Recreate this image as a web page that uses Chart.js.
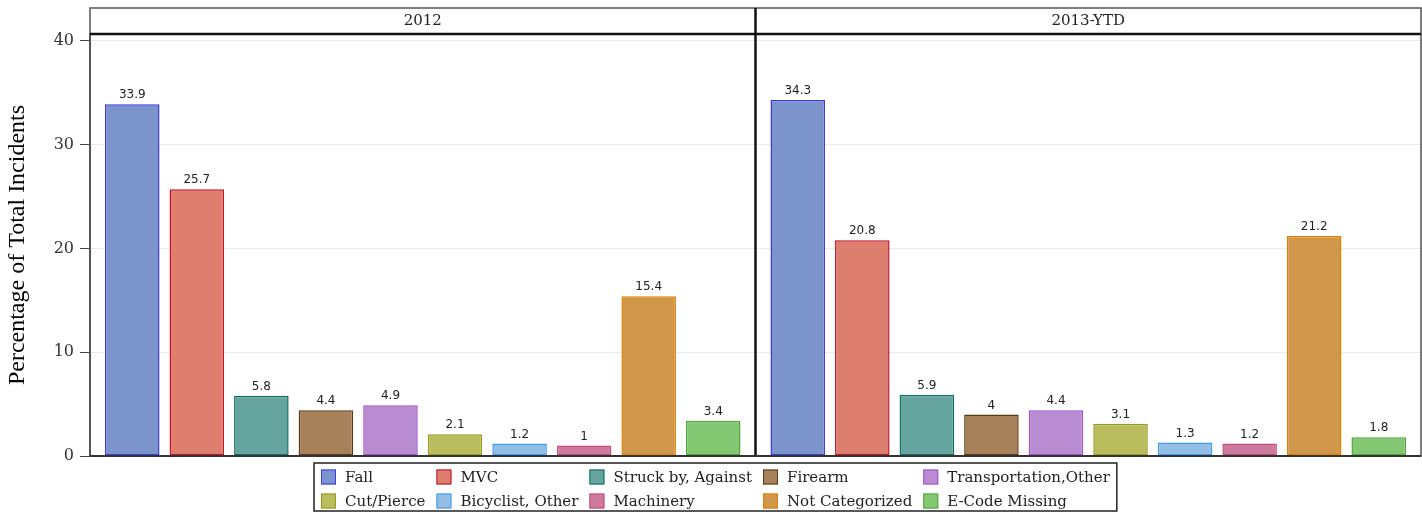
<!DOCTYPE html>
<html>
<head>
<meta charset="utf-8">
<script src="https://cdn.jsdelivr.net/npm/chart.js@4.4.1/dist/chart.umd.min.js"></script>
<style>
  html, body { margin: 0; padding: 0; background: #fff; }
</style>
</head>
<body>
<canvas id="chart" width="1422" height="514"></canvas>
<script>
const panels = ["2012", "2013-YTD"];
const categories = ["Fall", "MVC", "Struck by, Against", "Firearm", "Transportation,Other",
  "Cut/Pierce", "Bicyclist, Other", "Machinery", "Not Categorized", "E-Code Missing"];
const values2012 = [33.9, 25.7, 5.8, 4.4, 4.9, 2.1, 1.2, 1, 15.4, 3.4];
const values2013 = [34.3, 20.8, 5.9, 4, 4.4, 3.1, 1.3, 1.2, 21.2, 1.8];
const yTicks = [0, 10, 20, 30, 40];

const fillColors = ["#7b95cc", "#de7e6e", "#66a59f", "#a6815a", "#b98bd0",
  "#b9bd5d", "#92bee5", "#cd7a9e", "#d0964a", "#84c772"];
const lineColors = ["#3c3ce0", "#c0152a", "#0b6e5e", "#5a3a14", "#a050d0",
  "#9a9a20", "#3c9cf0", "#c0507a", "#e08000", "#4ea83a"];

const serif = "'DejaVu Serif', 'Liberation Serif', serif";

const datasets = categories.map((name, i) => ({
  label: name,
  data: [values2012[i], values2013[i]],
  backgroundColor: fillColors[i],
  borderColor: lineColors[i],
  borderWidth: 1.5,
  borderSkipped: false,
  categoryPercentage: 0.97,
  barPercentage: 0.845,
}));

// value labels above each bar
const barLabels = {
  id: "barLabels",
  afterDatasetsDraw(chart) {
    const ctx = chart.ctx;
    ctx.save();
    ctx.font = "12px 'DejaVu Sans', sans-serif";
    ctx.fillStyle = "#222";
    ctx.textAlign = "center";
    ctx.textBaseline = "bottom";
    chart.data.datasets.forEach((ds, i) => {
      chart.getDatasetMeta(i).data.forEach((bar, j) => {
        ctx.fillText(String(ds.data[j]), bar.x, bar.y - 3);
      });
    });
    ctx.restore();
  }
};

// panel frame, header strip and the boxed legend
const panelFrame = {
  id: "panelFrame",
  afterDraw(chart) {
    const ctx = chart.ctx;
    const a = chart.chartArea;
    const x = chart.scales.x;
    const headTop = a.top - 26;
    ctx.save();
    // outer frame
    ctx.strokeStyle = "#555";
    ctx.lineWidth = 1.5;
    ctx.strokeRect(a.left, headTop, a.right - a.left, a.bottom - headTop);
    // header bottom line and divider
    ctx.strokeStyle = "#111";
    ctx.lineWidth = 2.5;
    ctx.beginPath();
    ctx.moveTo(a.left, a.top);
    ctx.lineTo(a.right, a.top);
    const mid = (x.getPixelForValue(0) + x.getPixelForValue(1)) / 2;
    ctx.moveTo(mid, headTop);
    ctx.lineTo(mid, a.bottom);
    ctx.stroke();
    // baseline
    ctx.strokeStyle = "#333";
    ctx.lineWidth = 2;
    ctx.beginPath();
    ctx.moveTo(a.left, a.bottom);
    ctx.lineTo(a.right, a.bottom);
    ctx.stroke();
    // header labels
    ctx.fillStyle = "#222";
    ctx.font = "15px " + serif;
    ctx.textAlign = "center";
    ctx.textBaseline = "middle";
    panels.forEach((p, i) => {
      ctx.fillText(p, x.getPixelForValue(i), headTop + 13);
    });

    // legend: 2 rows x 5 columns
    ctx.font = "15px " + serif;
    const cols = 5, sw = 15, gap = 9, colGap = 11, pad = 7;
    const colW = [];
    for (let c = 0; c < cols; c++) {
      let w = 0;
      for (let r = 0; r < 2; r++) {
        const name = categories[r * cols + c];
        w = Math.max(w, sw + gap + ctx.measureText(name).width);
      }
      colW.push(w);
    }
    const total = colW.reduce((s, w) => s + w, 0) + colGap * (cols - 1);
    const boxW = total + pad * 2;
    const boxX = Math.round(chart.width / 2 + 4 - boxW / 2);
    const boxY = a.bottom + 7;
    const boxH = 48;
    ctx.strokeStyle = "#222";
    ctx.lineWidth = 1.5;
    ctx.strokeRect(boxX, boxY, boxW, boxH);
    ctx.textAlign = "left";
    let cx = boxX + pad;
    for (let c = 0; c < cols; c++) {
      for (let r = 0; r < 2; r++) {
        const i = r * cols + c;
        const cy = boxY + 14 + r * 24;
        ctx.fillStyle = fillColors[i];
        ctx.fillRect(cx, cy - 7.5, sw, sw);
        ctx.strokeStyle = lineColors[i];
        ctx.lineWidth = 1;
        ctx.strokeRect(cx + 0.5, cy - 7, sw - 1, sw - 1);
        ctx.fillStyle = "#222";
        ctx.fillText(categories[i], cx + sw + gap, cy + 1);
      }
      cx += colW[c] + colGap;
    }
    ctx.restore();
  }
};

new Chart(document.getElementById("chart"), {
  type: "bar",
  data: { labels: panels, datasets: datasets },
  options: {
    responsive: false,
    animation: false,
    layout: { padding: { top: 34, right: 1, bottom: 58, left: 0 } },
    plugins: {
      legend: { display: false },
      tooltip: { enabled: false },
    },
    scales: {
      x: { display: false },
      y: {
        min: 0,
        max: 40.67,
        afterFit(scale) { scale.width = 90; },
        afterBuildTicks(scale) { scale.ticks = yTicks.map(v => ({ value: v })); },
        ticks: {
          color: "#333",
          padding: 6,
          font: { family: serif, size: 16 },
        },
        grid: {
          color: "#ebebeb",
          tickColor: "#444",
          tickLength: 10,
          lineWidth: 1,
        },
        border: { color: "#555", width: 2 },
        title: {
          display: true,
          text: "Percentage of Total Incidents",
          color: "#000",
          font: { family: "'Liberation Serif', serif", size: 24 },
          padding: { top: 3, bottom: 0 },
        },
      },
    },
  },
  plugins: [barLabels, panelFrame],
});
</script>
</body>
</html>
